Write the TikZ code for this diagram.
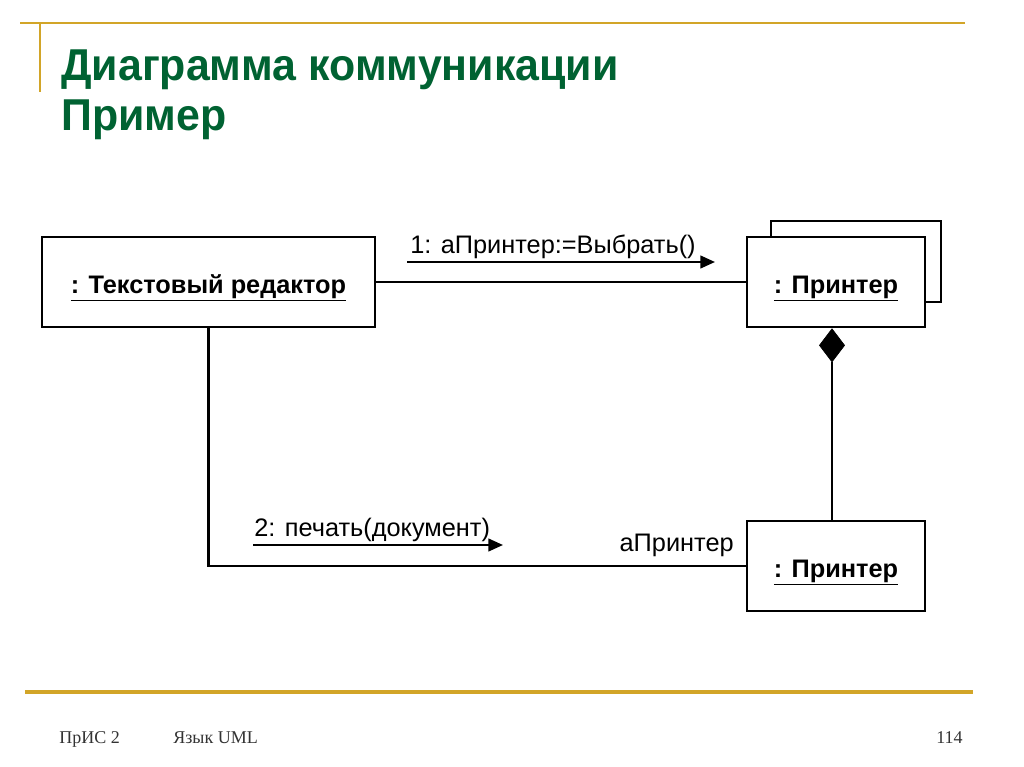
\documentclass[tikz,border=0pt]{standalone}
\usepackage{fontspec}
\setmainfont{Liberation Sans}
\newfontfamily\footfont{Liberation Serif}
\usepackage{graphicx}
\usepackage{tikz}
\usetikzlibrary{arrows.meta,positioning,shapes.geometric}
\usepackage{xcolor}
\definecolor{slidegold}{RGB}{210,165,40}
\definecolor{slidegreen}{RGB}{0,98,50}

\begin{document}
\begin{tikzpicture}[x=0.75pt,y=-0.75pt,line width=2pt,
                    msg/.style={-{Triangle[length=11pt,width=9.5pt]},line width=1.7pt},
                    lbl/.style={inner sep=0pt,font=\fontsize{19}{21}\selectfont},
                    foot/.style={inner sep=0pt,font=\footfont\fontsize{13.5}{15}\selectfont,text=black!80},
                    obj/.style={draw,fill=white,minimum height=67.5pt,inner sep=0pt,
                                text height=17pt,text depth=0pt,
                                font=\fontsize{19}{21}\selectfont\bfseries}]
  \useasboundingbox (0,0) rectangle (1024,767);

  % slide frame
  \draw[slidegold,line width=2pt] (20,23) -- (965,23);
  \draw[slidegold,line width=1.5pt] (40,23) -- (40,92);
  \draw[slidegold,line width=2.5pt] (25,692) -- (973,692);

  \node[anchor=base west,inner sep=0pt,text=slidegreen,font=\fontsize{33.5}{36}\selectfont\bfseries] (title) at (60,80) {\scalebox{0.96}[1]{Диаграмма коммуникации}};
  \node[anchor=base west,inner sep=0pt,text=slidegreen,font=\fontsize{33.5}{36}\selectfont\bfseries] (sub) at (60,130) {\scalebox{0.96}[1]{Пример}};

  % objects
  \node[obj,minimum width=127.5pt,minimum height=60.75pt] (prback) at (856,261.5) {};
  \node[obj,minimum width=249.75pt] (ed) at (208.5,282) {\underline{: Текстовый редактор}};
  \node[obj,minimum width=133.5pt] (pr) [right=277pt of ed] {\underline{: Принтер}};
  \node[obj,minimum width=133.5pt] (pr2) [below=143.5pt of pr] {\underline{: Принтер}};
  \node[diamond,fill,draw,line width=0.5pt,inner sep=0pt,minimum width=19pt,minimum height=25pt,anchor=north] (dia) at ([xshift=-3pt]pr.south) {};

  % links
  \draw (ed) -- (pr);
  \draw (dia.south) -- (dia.south |- pr2.north);
  \draw (ed.south) |- (pr2.west);

  % messages
  \coordinate (m1s) at (407,262);
  \coordinate (m1e) at (715,262);
  \coordinate (m2s) at (253,545);
  \coordinate (m2e) at (503,545);
  \draw[msg] (m1s) -- (m1e);
  \draw[msg] (m2s) -- (m2e);
  \node[lbl,anchor=base west] (m1) at (409,253) {1: аПринтер:=Выбрать()};
  \node[lbl,anchor=base west] (m2) at (253,536) {2: печать(документ)};
  \node[lbl,anchor=base east] (role) at (735,551) {аПринтер};

  % footer
  \node[foot,anchor=base west] (foot1) at (58,743) {ПрИС 2};
  \node[foot,anchor=base west] (foot2) at (172,743) {Язык UML};
  \node[foot,anchor=base east] (pagenum) at (964,743) {114};
\end{tikzpicture}
\end{document}
